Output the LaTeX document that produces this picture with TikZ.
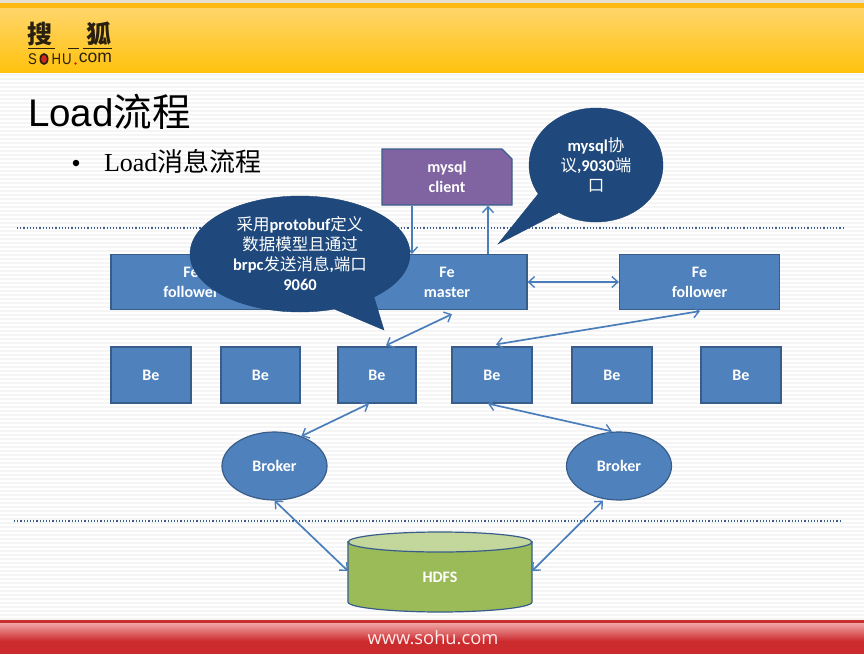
\documentclass[tikz,border=0pt]{standalone}
\usepackage{fontspec}
\setmainfont{Carlito}
\newfontfamily\cjk{Noto Sans CJK SC}
\newfontfamily\arialf{Liberation Sans}
\newfontfamily\timesf{Liberation Serif}
\newfontfamily\webf{Open Sans}
\usetikzlibrary{shapes.geometric,shapes.misc,shapes.callouts,arrows.meta}
\definecolor{boxfill}{HTML}{4F81BD}
\definecolor{boxline}{HTML}{385D8A}
\definecolor{arrowc}{HTML}{4A7EBB}
\definecolor{calloutc}{HTML}{1F497D}
\definecolor{purplebox}{HTML}{8064A2}
\definecolor{greenbox}{HTML}{9BBB59}
\definecolor{greentop}{HTML}{C3D69B}
\definecolor{hdtop}{HTML}{FFD56A}
\definecolor{hdbot}{HTML}{FFC20E}
\definecolor{hdband}{HTML}{FDB813}
\definecolor{hdgray}{HTML}{E6E0D0}
\definecolor{ftline}{HTML}{C83030}
\definecolor{fttop}{HTML}{F0A5A5}
\definecolor{ftbot}{HTML}{CC2B2E}
\definecolor{logoc}{HTML}{2A2010}
\definecolor{logored}{HTML}{D42A1E}
\tikzset{
  lbl/.style={text=white,font=\fontsize{16}{20}\selectfont\bfseries,align=center},
  febox/.style={rectangle,draw=boxline,line width=1.2pt,fill=boxfill,minimum width=160pt,minimum height=55pt,inner sep=0pt,lbl},
  bebox/.style={rectangle,draw=boxline,line width=1.2pt,fill=boxfill,minimum width=80pt,minimum height=56pt,inner sep=0pt,lbl},
  brokernode/.style={ellipse,draw=boxline,line width=1.2pt,fill=boxfill,minimum width=105pt,minimum height=68pt,inner sep=0pt,lbl},
  link/.style={draw=arrowc,line width=1.7pt,>={Straight Barb[length=6pt,width=11pt,line width=1.4pt]}},
  bubble/.style={ellipse callout,fill=calloutc,draw=calloutc!90!black,inner sep=0pt,text=white,align=center,font=\fontsize{16.5}{20}\selectfont\bfseries},
  sepline/.style={dotted,draw=boxline,line width=1.2pt},
  plain/.style={inner sep=0pt,outer sep=0pt},
  logotxt/.style={plain,text=logoc,font=\arialf\fontsize{15.5}{15.5}\selectfont,xscale=0.85}
}
\newcommand{\zh}[1]{{\cjk\mdseries #1}}
\begin{document}
\begin{tikzpicture}[x=1pt,y=-1pt]
\useasboundingbox (0,0) rectangle (864,654);
% background
\fill[white] (0,0) rectangle (864,654);
\foreach \yy in {74,78,...,618} \fill[black!4] (0,\yy) rectangle (864,\yy+2);
% header
\fill[hdgray] (0,0) rectangle (864,3);
\fill[hdband] (0,3) rectangle (864,8);
\fill[top color=hdtop, bottom color=hdbot] (0,8) rectangle (864,72);
% footer
\fill[ftline] (0,620) rectangle (864,623);
\fill[top color=fttop, bottom color=ftbot] (0,623) rectangle (864,641);
\fill[ftbot] (0,641) rectangle (864,654);
\node[plain,text=white!92!red,font=\webf\fontsize{18.3}{22}\selectfont] (web) at (433,638) {www.sohu.com};
% logo
\node[plain,font=\cjk\bfseries\fontsize{25}{25}\selectfont,text=logoc] (lg1) at (40,34) {搜};
\node[plain,font=\cjk\bfseries\fontsize{25}{25}\selectfont,text=logoc] (lg2) at (99,34) {狐};
\draw[logoc,line width=0.9pt] (28,48) -- (55,48) (68,48) -- (79,48) (83,48) -- (112,48);
\node[logotxt] (lgs) at (32.5,59) {S};
\node[ellipse,fill=logoc,minimum width=9pt,minimum height=12pt,inner sep=0pt] (lgo) at (44,59) {};
\fill[logored] (lgo.center) ellipse [x radius=2.8pt,y radius=4pt];
\node[logotxt] (lgh) at (56.5,59) {H};
\node[logotxt] (lgu) at (67,59) {U};
\fill[logored] (75.5,63.5) circle (1.3pt);
\node[plain,font=\arialf\fontsize{17.5}{17}\selectfont,text=logoc] (lgc) at (95.5,58) {com};
% title
\node[plain,anchor=base west,font=\arialf\fontsize{38.5}{40}\selectfont] (title) at (28,126) {Load{\cjk 流程}};
\node[circle,fill=black,minimum size=6.5pt,inner sep=0pt] (bullet) at (76,163) {};
\node[plain,anchor=base west,font=\timesf\fontsize{26}{28}\selectfont] (sub) at (104,171) {Load{\cjk 消息流程}};
% separators
\coordinate (s1a) at (17,228); \coordinate (s1b) at (845,228);
\coordinate (s2a) at (14,521); \coordinate (s2b) at (842,521);
\draw[sepline] (s1a) -- (s1b);
\draw[sepline] (s2a) -- (s2b);
% nodes
\node[chamfered rectangle,chamfered rectangle corners=north east,chamfered rectangle sep=5pt,draw=boxline,line width=1.2pt,fill=purplebox,minimum width=130pt,minimum height=56pt,inner sep=0pt,lbl] (client) at (447,177) {mysql\\client};
\node[febox] (fe1) at (191,282) {Fe\\follower};
\node[febox] (fem) at (447,282) {Fe\\master};
\node[febox] (fe2) at (699.5,282) {Fe\\follower};
\node[bebox] (be1) at (151,375) {Be};
\node[bebox,minimum width=79pt] (be2) at (260.5,375) {Be};
\node[bebox,minimum width=78pt] (be3) at (377,375) {Be};
\node[bebox] (be4) at (492,375) {Be};
\node[bebox] (be5) at (612,375) {Be};
\node[bebox] (be6) at (741,375) {Be};
\node[brokernode] (br1) at (274.5,466) {Broker};
\node[brokernode] (br2) at (619,466) {Broker};
% HDFS
\draw[boxline,line width=1.2pt,fill=greenbox] (348,542) -- (348,602) .. controls (348,608) and (396,612) .. (440,612) .. controls (484,612) and (532,608) .. (532,602) -- (532,542) -- cycle;
\draw[boxline,line width=1.2pt,fill=greentop] (440,542) ellipse [x radius=92,y radius=10];
\node[plain,minimum width=184pt,minimum height=70pt,lbl] (hdfs) at (440,577) {HDFS};
% connectors
\draw[link,->] ([xshift=-35pt]client.south) -- ([xshift=-35pt]fem.north);
\draw[link,->] ([xshift=41pt]fem.north) -- ([xshift=41pt]client.south);
\draw[link,<->] ([yshift=0pt]fem.east) -- ([yshift=0pt]fe2.west);
\draw[link,<->] ([xshift=9pt,yshift=1pt]be3.north) -- ([xshift=5pt,yshift=-4pt]fem.south);
\draw[link,<->] ([xshift=4pt,yshift=2pt]be4.north) -- ([xshift=0.5pt,yshift=-1pt]fe2.south);
\draw[link,<->] (br1.48) -- ([xshift=-8pt]be3.south);
\draw[link,<->] ([xshift=-4pt]be4.south) -- ([xshift=-7pt]br2.north);
\draw[link,<->] (br1.south) -- ([yshift=6pt]hdfs.west);
\draw[link,<->] ([xshift=-16pt]br2.south) -- ([yshift=6pt]hdfs.east);
% callouts
\node[bubble,minimum width=220pt,minimum height=116pt,callout absolute pointer={(384,330)},callout pointer arc=24] (c1) at (300,254) {\zh{采用}protobuf\zh{定义}\\\zh{数据模型且通过}\\brpc\zh{发送消息},\zh{端口}\\9060};
\node[bubble,minimum width=134pt,minimum height=114pt,callout absolute pointer={(498,244)},callout pointer arc=26] (c2) at (596,165) {mysql\zh{协}\\\zh{议},9030\zh{端}\\\zh{口}};
\end{tikzpicture}
\end{document}
